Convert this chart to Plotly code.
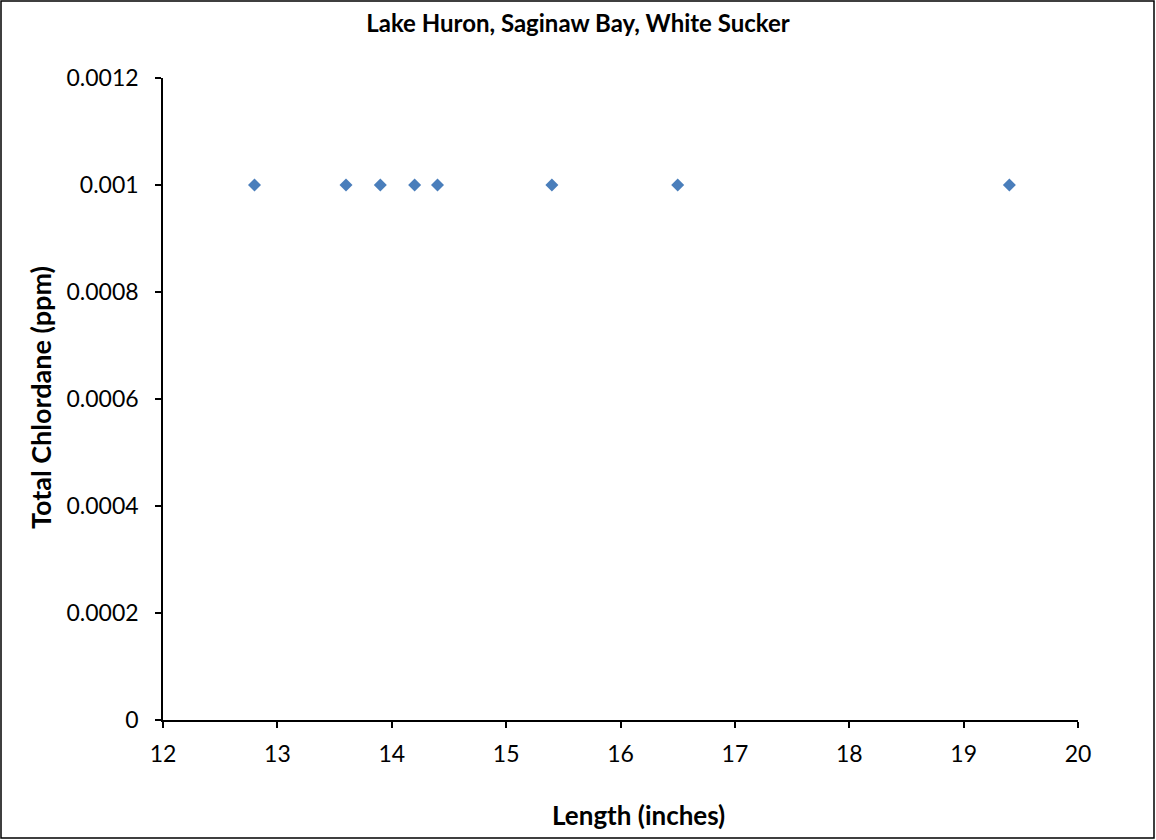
import plotly.graph_objects as go

# data
LENGTH_IN = [12.8, 13.6, 13.9, 14.2, 14.4, 15.4, 16.5, 19.4]
CHLORDANE_PPM = [0.001, 0.001, 0.001, 0.001, 0.001, 0.001, 0.001, 0.001]
X_TICKS = [12, 13, 14, 15, 16, 17, 18, 19, 20]
Y_TICKS = [0, 0.0002, 0.0004, 0.0006, 0.0008, 0.001, 0.0012]
Y_LABELS = ["0", "0.0002", "0.0004", "0.0006", "0.0008", "0.001", "0.0012"]

W, H = 1156, 840
L, R, T, B = 163, 78, 78, 120
PW, PH = W - L - R, H - T - B
FONT = "Lato, 'Open Sans', Arial, sans-serif"

fig = go.Figure()
fig.add_trace(go.Scatter(
    x=LENGTH_IN, y=CHLORDANE_PPM,
    mode="markers",
    marker=dict(symbol="diamond", size=10, color="#4A7EBB"),
    showlegend=False,
))

axis = dict(
    showgrid=False, zeroline=False, automargin=False,
    showline=True, linecolor="black", linewidth=1.5,
    ticks="outside", ticklen=6, tickwidth=1.5, tickcolor="black",
    tickfont=dict(family=FONT, size=23, color="black"),
)

fig.update_layout(
    width=W, height=H,
    margin=dict(l=L, r=R, t=T, b=B),
    paper_bgcolor="white", plot_bgcolor="white",
    font=dict(family=FONT, color="black"),
    title=dict(
        text="<b>Lake Huron, Saginaw Bay, White Sucker</b>",
        font=dict(family=FONT, size=24, color="black"),
        x=0.5, xanchor="center",
        y=1 - 24 / H, yanchor="middle",
    ),
    xaxis=dict(**axis, range=[12, 20], tickvals=X_TICKS, ticklabelstandoff=7),
    yaxis=dict(**axis, range=[0, 0.0012], tickvals=Y_TICKS, ticktext=Y_LABELS,
               ticklabelstandoff=12),
)

# axis titles
fig.add_annotation(
    text="<b>Length (inches)</b>", xref="paper", yref="paper",
    x=(638 - L) / PW, y=-(815 - (H - B)) / PH, xanchor="center", yanchor="middle",
    showarrow=False, font=dict(family=FONT, size=26, color="black"),
)
fig.add_annotation(
    text="<b>Total Chlordane (ppm)</b>", xref="paper", yref="paper",
    x=(40 - L) / PW, y=(H - B - 398) / PH, xanchor="center", yanchor="middle",
    textangle=-90,
    showarrow=False, font=dict(family=FONT, size=27, color="black"),
)

# outer chart border
fig.add_shape(
    type="rect", xref="paper", yref="paper",
    x0=(1 - L) / PW, x1=(W - 2 - L) / PW,
    y0=-(B - 2) / PH, y1=1 + (T - 1) / PH,
    line=dict(color="black", width=1.5), fillcolor="rgba(0,0,0,0)",
    layer="below",
)

fig.write_html("out.html", config={"displayModeBar": False},
               post_script="document.body.style.margin='0';")
